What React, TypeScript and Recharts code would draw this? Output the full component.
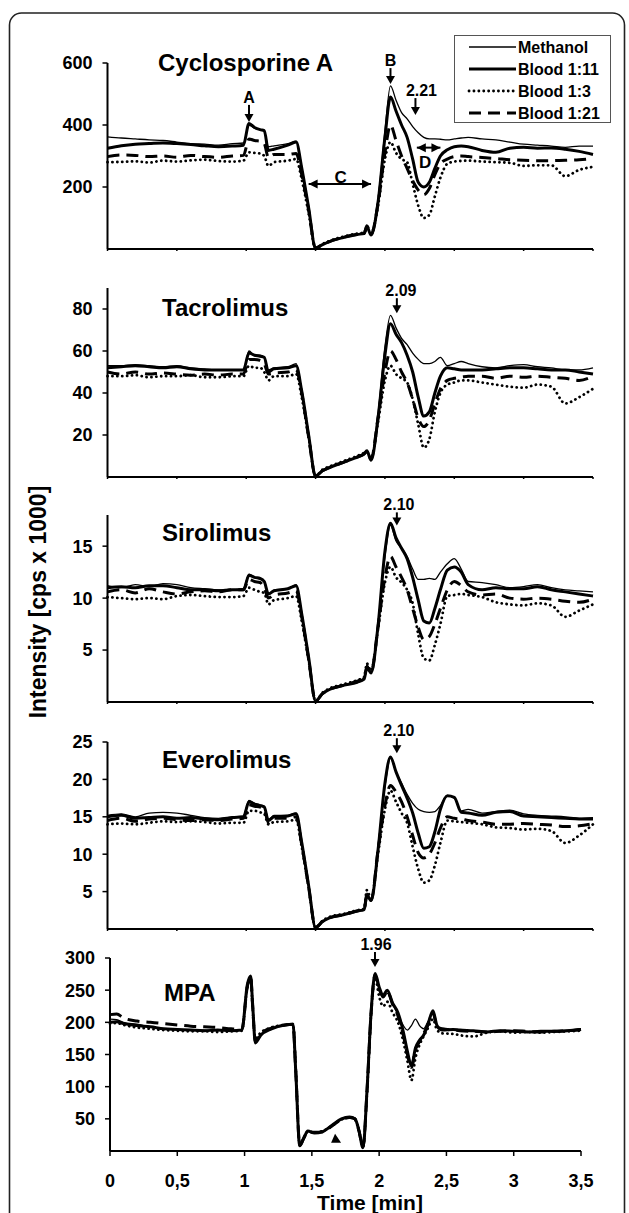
import { LineChart, Line, XAxis, YAxis, ReferenceDot, ReferenceLine, Legend } from 'recharts';

const FONT = '"Liberation Sans", Arial, Helvetica, sans-serif';

// time grid (min) shared by the four upper panels
const timeUpper = [
  0, 0.1, 0.2, 0.3, 0.4, 0.5, 0.6, 0.7, 0.8, 0.9,
  0.98, 1.02, 1.06, 1.1, 1.13, 1.16, 1.2, 1.3, 1.36, 1.4, 1.45, 1.5,
  1.55, 1.6, 1.7, 1.8, 1.85, 1.87, 1.9, 1.95,
  2.0, 2.04, 2.08, 2.12, 2.16, 2.2, 2.24, 2.28, 2.32, 2.36, 2.4, 2.45, 2.5, 2.55, 2.6,
  2.7, 2.8, 2.9, 3.0, 3.1, 3.2, 3.3, 3.4, 3.5,
];

const csaMethanol = [
  362, 358, 355, 352, 350, 345, 340, 338, 335, 340,
  342, 400, 390, 385, 380, 330, 333, 340, 348, 265, 135, 4,
  15, 25, 38, 48, 52, 70, 48, 160,
  380, 526, 480, 440, 420, 395, 375, 360, 355, 355, 354, 352, 355, 358, 360,
  355, 352, 345, 338, 335, 332, 328, 332, 332,
];
const csaBlood11 = [
  325, 333, 338, 340, 342, 340, 337, 333, 330, 332,
  335, 405, 392, 385, 382, 318, 322, 335, 345, 262, 133, 3,
  14, 24, 37, 47, 50, 72, 45, 150,
  360, 490, 445, 400, 360, 290, 215, 200, 215, 260, 300, 320, 330, 332, 330,
  318, 312, 325, 328, 325, 326, 322, 315, 305,
];
const csaBlood3 = [
  280, 281, 283, 279, 285, 282, 286, 288, 284, 282,
  285, 312, 310, 308, 300, 268, 280, 285, 290, 225, 115, 3,
  16, 26, 40, 50, 53, 68, 50, 140,
  290, 345, 310, 290, 280, 210, 140, 100, 110, 170, 230, 275, 282, 284, 285,
  282, 280, 278, 268, 270, 270, 235, 255, 265,
];
const csaBlood21 = [
  298, 303, 302, 298, 300, 296, 302, 298, 296, 300,
  302, 355, 350, 348, 340, 295, 305, 305, 308, 240, 125, 3,
  14, 24, 38, 47, 50, 75, 48, 145,
  310, 400, 350, 300, 260, 220, 190, 175, 195, 240, 275, 290, 298, 300, 298,
  295, 292, 288, 286, 285, 285, 286, 288, 292,
];

const tacMethanol = [
  53, 53, 53.5, 53, 52.5, 53, 52, 51.5, 51, 51,
  51, 60, 58, 58, 57, 51, 52, 52.5, 54, 41, 20, 0.5,
  3, 4.5, 7, 9.5, 11, 12, 8.5, 30,
  62, 77, 71, 66, 63, 59, 56, 54, 54, 55, 57, 53, 54, 55, 54,
  52.5, 52, 53, 53.5, 52.5, 52, 51, 51, 52,
];
const tacBlood11 = [
  52, 52.5, 53, 52.5, 52, 52.5, 51.5, 51, 51, 51,
  51, 59, 58, 57.5, 57, 50, 51.5, 52, 53, 41, 20, 0.5,
  3, 4.5, 7, 9.5, 11, 12.5, 8, 28,
  58, 73, 68, 64, 58, 50, 38, 29, 31, 40, 48, 52, 51.5, 51, 51,
  51, 51.5, 52, 52, 51.5, 51, 51, 50, 49,
];
const tacBlood3 = [
  48, 48, 48.5, 47.5, 48, 48, 48.5, 47.5, 47.5, 48,
  48, 53, 52, 52, 50, 46, 48, 48, 49, 38, 19, 0.5,
  3.5, 5, 7.5, 10, 11.5, 12, 9, 26,
  46, 53, 49, 47, 45, 37, 25, 14, 18, 31, 40, 44, 45, 46, 46,
  45, 44, 43, 42.5, 44, 43, 35, 38, 42,
];
const tacBlood21 = [
  50, 49, 50, 49, 49.5, 49, 48.5, 49, 48.5, 49,
  49, 56, 56, 55.5, 54, 49, 49.5, 50, 51, 40, 19, 0.5,
  3, 4.5, 7, 9.5, 11, 12, 8.5, 28,
  50, 60, 56, 50, 45, 37, 28, 24, 27, 35, 42, 46, 47, 47.5, 48,
  48, 47, 48, 47.5, 48, 47.5, 47, 46, 48,
];

const sirMethanol = [
  11.2, 11.0, 11.3, 11.1, 11.4, 11.3, 11, 10.9, 10.8, 10.8,
  10.9, 12.3, 12, 11.8, 11.6, 10.4, 10.8, 10.9, 11.3, 8.5, 4.3, 0.1,
  0.8, 1.2, 1.6, 2.0, 2.3, 3.6, 2.9, 7.5,
  14, 17, 15.5, 14.8, 14, 12.8, 11.8, 11.8, 11.9, 11.8, 12.5, 13.3, 13.8, 12.8, 11.6,
  11.5, 11.3, 11, 11.1, 11.3, 11, 10.8, 10.7, 10.6,
];
const sirBlood11 = [
  11, 11.1, 11, 11.2, 11.2, 11, 10.8, 10.8, 10.7, 10.8,
  10.8, 12.2, 12, 11.9, 11.6, 10.4, 10.7, 10.9, 11.2, 8.5, 4.3, 0.1,
  0.8, 1.2, 1.6, 1.9, 2.2, 3.3, 2.8, 7.3,
  14.5, 17.2, 15.8, 14.8, 13.8, 12, 9.8, 7.8, 7.6, 9, 10.8, 12.7, 13, 12.5, 11.3,
  10.8, 11, 10.9, 10.9, 11.1, 10.8, 10.6, 10.4, 10.2,
];
const sirBlood3 = [
  10.1, 10, 9.9, 10, 9.9, 10.2, 10.3, 10.2, 10.1, 10.1,
  10.2, 11, 10.8, 10.6, 10.5, 9.4, 9.8, 10, 10.2, 7.8, 4, 0.1,
  0.9, 1.3, 1.7, 2.1, 2.4, 3.7, 3, 7,
  11.5, 13, 12, 11.5, 10.8, 9.5, 6.5, 4.2, 4, 5.5, 7.5, 10.2, 10.3, 10.4, 10.3,
  10.1, 9.6, 9.4, 9.3, 9.5, 9.3, 8.2, 8.8, 9.4,
];
const sirBlood21 = [
  10.6, 10.8, 10.5, 10.9, 10.6, 10.4, 10.6, 10.7, 10.6, 10.8,
  10.8, 11.8, 11.6, 11.5, 11, 10, 10.3, 10.5, 10.7, 8.2, 4.1, 0.1,
  0.8, 1.2, 1.6, 2, 2.3, 3.4, 2.9, 7.2,
  12, 14, 13, 12, 10.8, 9, 7.2, 6, 6.3, 7.5, 9, 10.8, 11.6, 11.2, 10.6,
  10.3, 10.4, 10, 9.9, 10, 9.9, 9.7, 9.6, 9.9,
];

const eveMethanol = [
  15.2, 15.4, 15, 15.5, 15.6, 15.5, 15.2, 14.9, 14.8, 15,
  15.1, 17.2, 16.8, 16.6, 16.4, 14.6, 15.2, 15.2, 15.5, 11.6, 5.8, 0.2,
  1, 1.5, 1.9, 2.4, 2.6, 4.8, 3.8, 11,
  19, 22.8, 21, 19.5, 18, 16.8, 16, 15.7, 15.6, 15.7, 16.5, 17.8, 17.5, 15.8, 16,
  15.5, 15.7, 15.9, 15.4, 15.2, 15.1, 15, 14.8, 14.9,
];
const eveBlood11 = [
  15, 15.2, 14.8, 14.9, 15, 14.8, 14.9, 14.7, 14.6, 14.9,
  15, 17, 16.7, 16.5, 16.3, 14.5, 15, 15.1, 15.4, 11.6, 5.8, 0.2,
  1, 1.5, 1.9, 2.4, 2.6, 4.5, 3.8, 10.5,
  19.5, 23, 21, 19.2, 17.5, 15.5, 12.8, 10.8, 11, 13, 16, 17.8, 17.6, 15.6, 15.5,
  15.2, 15.6, 15.7, 15.1, 15, 14.9, 14.8, 14.7, 14.7,
];
const eveBlood3 = [
  14, 14.1, 14, 14.2, 14.4, 14.3, 14.4, 14.3, 14.1, 14.2,
  14.2, 15.8, 15.8, 15.6, 15.4, 14, 14.3, 14.4, 14.6, 11, 5.5, 0.2,
  1.1, 1.6, 2, 2.5, 2.7, 5.2, 4, 10,
  16, 18.5, 17, 15.5, 14.2, 11, 8, 6.2, 6.5, 8.5, 11.5, 14.5, 14.4, 14.3, 14.2,
  14, 13.6, 13.5, 13.3, 13.4, 13.1, 11.5, 12.5, 14,
];
const eveBlood21 = [
  14.5, 14.8, 14.4, 14.7, 14.8, 14.6, 14.5, 14.6, 14.5, 14.7,
  14.8, 16.6, 16.4, 16.3, 16, 14.2, 14.8, 14.8, 15, 11.3, 5.6, 0.2,
  1, 1.5, 1.9, 2.4, 2.6, 4.6, 3.8, 10.5,
  16.5, 19.2, 18.3, 17, 15, 12.5, 10.2, 9.5, 10, 11.5, 13.5, 15, 14.8, 14.7, 14.5,
  14.3, 14, 14, 14.1, 14, 13.9, 13.7, 13.8, 14.1,
];

// MPA has its own time grid
const timeMpa = [
  0, 0.05, 0.1, 0.2, 0.3, 0.4, 0.5, 0.6, 0.7, 0.8, 0.9,
  0.98, 1.02, 1.045, 1.06, 1.08, 1.12, 1.2, 1.3, 1.36,
  1.38, 1.41, 1.44, 1.47, 1.52, 1.58, 1.65, 1.72, 1.78, 1.82, 1.85, 1.88, 1.91, 1.94, 1.97,
  2.0, 2.03, 2.06, 2.1, 2.14, 2.18, 2.21, 2.24, 2.27, 2.3, 2.33, 2.36, 2.4, 2.43, 2.47,
  2.55, 2.6, 2.7, 2.8, 2.9, 3.0, 3.1, 3.2, 3.3, 3.4, 3.5,
];
const mpaMethanol = [
  205, 204, 200, 197, 193, 190, 189, 188, 188, 187, 187,
  188, 250, 270, 225, 172, 182, 190, 195, 196,
  125, 10, 20, 31, 29, 30, 40, 49, 52, 50, 35, 6, 95, 210, 275,
  250, 238, 245, 228, 212, 195, 188, 195, 205, 195, 190, 200, 213, 195, 190,
  188, 187, 186, 185, 186, 187, 186, 185, 187, 188, 190,
];
const mpaBlood11 = [
  200, 201, 198, 195, 193, 190, 189, 188, 187, 188, 187,
  188, 258, 272, 228, 168, 180, 190, 196, 197,
  125, 8, 20, 31, 28, 30, 40, 50, 53, 50, 32, 5, 95, 215, 276,
  255, 242, 250, 230, 215, 185, 155, 132, 160, 172, 180, 195, 218, 195, 188,
  189, 188, 187, 185, 187, 186, 185, 186, 186, 187, 189,
];
const mpaBlood3 = [
  198, 199, 196, 192, 190, 188, 187, 186, 186, 185, 186,
  187, 255, 270, 222, 175, 184, 192, 196, 197,
  128, 9, 21, 30, 29, 31, 39, 49, 52, 49, 31, 6, 92, 212, 270,
  240, 225, 232, 215, 200, 170, 140, 110, 145, 165, 178, 190, 205, 188, 183,
  182, 180, 178, 184, 186, 184, 185, 184, 185, 186, 187,
];
const mpaBlood21 = [
  212, 213, 207, 202, 200, 198, 196, 194, 193, 192, 190,
  189, 255, 271, 225, 170, 182, 191, 196, 197,
  126, 9, 20, 30, 29, 30, 39, 49, 52, 50, 31, 6, 93, 213, 274,
  252, 240, 248, 228, 210, 180, 150, 130, 158, 170, 182, 195, 215, 192, 190,
  188, 187, 186, 185, 186, 187, 186, 185, 186, 187, 189,
];

const xTicks = [0, 0.5, 1, 1.5, 2, 2.5, 3, 3.5];
const xTickLabels = ['0', '0,5', '1', '1,5', '2', '2,5', '3', '3,5'];

const series = [
  { key: 'b3', name: 'Blood 1:3', width: 2.8, dash: '0.1 4.8', cap: 'round' as const },
  { key: 'b21', name: 'Blood 1:21', width: 3, dash: '12 7', cap: 'butt' as const },
  { key: 'b11', name: 'Blood 1:11', width: 3, dash: undefined, cap: 'butt' as const },
  { key: 'm', name: 'Methanol', width: 1.3, dash: undefined, cap: 'butt' as const },
];
const legendOrder = ['m', 'b11', 'b3', 'b21'];

function rows(times: number[], m: number[], b11: number[], b3: number[], b21: number[]) {
  return times.map((t, i) => ({ t, m: m[i], b11: b11[i], b3: b3[i], b21: b21[i] }));
}

type Arrow = { t: number; v: number; label: string; len: number; dx?: number };

const panels = [
  {
    name: 'Cyclosporine A', data: rows(timeUpper, csaMethanol, csaBlood11, csaBlood3, csaBlood21),
    domain: [0, 600], yTicks: [200, 400, 600],
    plotLeft: 107.5, plotRight: 593, plotTop: 63, plotBottom: 249, titleX: 158, titleY: 71,
    arrows: [
      { t: 1.02, v: 410, label: 'A', len: 17 },
      { t: 2.04, v: 532, label: 'B', len: 16 },
      { t: 2.22, v: 432, label: '2.21', len: 17, dx: 6 },
    ] as Arrow[],
    spans: [{ t1: 1.45, t2: 1.9, v: 210 }, { t1: 2.23, t2: 2.4, v: 327 }],
    letters: [{ t: 1.68, v: 232, label: 'C' }, { t: 2.29, v: 280, label: 'D' }],
    legend: true, timeAxis: false,
  },
  {
    name: 'Tacrolimus', data: rows(timeUpper, tacMethanol, tacBlood11, tacBlood3, tacBlood21),
    domain: [0, 90], yTicks: [20, 40, 60, 80],
    plotLeft: 107.5, plotRight: 593, plotTop: 288, plotBottom: 477, titleX: 162, titleY: 316,
    arrows: [{ t: 2.086, v: 78, label: '2.09', len: 15, dx: 4 }] as Arrow[],
    spans: [], letters: [], legend: false, timeAxis: false,
  },
  {
    name: 'Sirolimus', data: rows(timeUpper, sirMethanol, sirBlood11, sirBlood3, sirBlood21),
    domain: [0, 18], yTicks: [5, 10, 15],
    plotLeft: 107.5, plotRight: 593, plotTop: 515, plotBottom: 702, titleX: 162, titleY: 541,
    arrows: [{ t: 2.086, v: 17, label: '2.10', len: 13, dx: 2 }] as Arrow[],
    spans: [], letters: [], legend: false, timeAxis: false,
  },
  {
    name: 'Everolimus', data: rows(timeUpper, eveMethanol, eveBlood11, eveBlood3, eveBlood21),
    domain: [0, 25], yTicks: [5, 10, 15, 20, 25],
    plotLeft: 107.5, plotRight: 593, plotTop: 742, plotBottom: 929, titleX: 162, titleY: 768,
    arrows: [{ t: 2.086, v: 23.5, label: '2.10', len: 15, dx: 2 }] as Arrow[],
    spans: [], letters: [], legend: false, timeAxis: false,
  },
  {
    name: 'MPA', data: rows(timeMpa, mpaMethanol, mpaBlood11, mpaBlood3, mpaBlood21),
    domain: [0, 300], yTicks: [50, 100, 150, 200, 250, 300],
    plotLeft: 110, plotRight: 581, plotTop: 958, plotBottom: 1151, titleX: 164, titleY: 1001,
    arrows: [{ t: 1.969, v: 286, label: '1.96', len: 15, dx: 1 }] as Arrow[],
    spans: [], letters: [], legend: false, timeAxis: true,
  },
];

const tickFont = { fill: '#000', fontSize: 18, fontWeight: 700, fontFamily: FONT };
const axisLine = { stroke: '#000', strokeWidth: 2 };
const tickLine = { stroke: '#000', strokeWidth: 1.5 };

const downArrow = (a: Arrow) => (props: any) => {
  const { cx, cy } = props;
  return (
    <g>
      <line x1={cx} y1={cy - a.len} x2={cx} y2={cy - 6} stroke="#000" strokeWidth={2} />
      <path d={`M${cx - 4.5},${cy - 8} L${cx + 4.5},${cy - 8} L${cx},${cy} Z`} fill="#000" />
      <text x={cx + (a.dx || 0)} y={cy - a.len - 2} textAnchor="middle" fontSize={16} fontWeight={700} fontFamily={FONT} fill="#000">
        {a.label}
      </text>
    </g>
  );
};

const headLeft = (props: any) => <path d={`M${props.cx},${props.cy} l9,-4.5 l0,9 z`} fill="#000" />;
const headRight = (props: any) => <path d={`M${props.cx},${props.cy} l-9,-4.5 l0,9 z`} fill="#000" />;
const letter = (label: string) => (props: any) => (
  <text x={props.cx} y={props.cy} dy="0.35em" textAnchor="middle" fontSize={17} fontWeight={700} fontFamily={FONT} fill="#000">
    {label}
  </text>
);
const triangle = (props: any) => (
  <path d={`M${props.cx - 5},${props.cy + 4} L${props.cx + 5},${props.cy + 4} L${props.cx - 1},${props.cy - 5} Z`} fill="#000" />
);

const LegendBox = () => (
  <svg width={158} height={89} style={{ display: 'block' }}>
    <rect x={0.5} y={0.5} width={156} height={87} fill="#fff" stroke="#555" strokeWidth={1} />
    {legendOrder.map((k, i) => {
      const s = series.find((x) => x.key === k)!;
      const y = 12 + i * 22;
      return (
        <g key={k}>
          <line x1={15} x2={62} y1={y} y2={y} stroke="#000" strokeWidth={s.width} strokeDasharray={s.dash} strokeLinecap={s.cap} />
          <text x={64} y={y} dy="0.35em" fontSize={16} fontWeight={700} fontFamily={FONT} fill="#000">
            {s.name}
          </text>
        </g>
      );
    })}
  </svg>
);

function Panel({ p }: { p: (typeof panels)[number] }) {
  const xHeight = p.timeAxis ? 52 : 10;
  const chartTop = p.plotTop - 40;
  const height = 40 + (p.plotBottom - p.plotTop) + xHeight;
  return (
    <div style={{ position: 'absolute', left: 0, top: chartTop }}>
      <LineChart width={629} height={height} data={p.data} margin={{ top: 40, right: 629 - p.plotRight, bottom: 0, left: 0 }}>
        <XAxis
          type="number"
          dataKey="t"
          domain={[0, 3.5]}
          ticks={xTicks}
          interval={0}
          height={xHeight}
          axisLine={axisLine}
          tickLine={tickLine}
          tickSize={p.timeAxis ? 5 : 2}
          tickMargin={p.timeAxis ? 18 : 0}
          tick={tickFont}
          tickFormatter={(_v: number, i: number) => (p.timeAxis ? xTickLabels[i] : '')}
        />
        <YAxis
          type="number"
          domain={p.domain}
          ticks={p.yTicks}
          interval={0}
          width={p.plotLeft}
          axisLine={axisLine}
          tickLine={tickLine}
          tickSize={5}
          tickMargin={10}
          tick={tickFont}
          allowDataOverflow
        />
        {series.map((s) => (
          <Line
            key={s.key}
            type="monotone"
            dataKey={s.key}
            stroke="#000"
            strokeWidth={s.width}
            strokeDasharray={s.dash}
            strokeLinecap={s.cap}
            dot={false}
            activeDot={false}
            isAnimationActive={false}
          />
        ))}
        {p.arrows.map((a) => (
          <ReferenceDot key={a.label} x={a.t} y={a.v} ifOverflow="visible" shape={downArrow(a)} />
        ))}
        {p.spans.map((s) => (
          <ReferenceLine key={`l${s.t1}`} segment={[{ x: s.t1, y: s.v }, { x: s.t2, y: s.v }]} stroke="#000" strokeWidth={2} />
        ))}
        {p.spans.map((s) => (
          <ReferenceDot key={`a${s.t1}`} x={s.t1} y={s.v} ifOverflow="visible" shape={headLeft} />
        ))}
        {p.spans.map((s) => (
          <ReferenceDot key={`b${s.t2}`} x={s.t2} y={s.v} ifOverflow="visible" shape={headRight} />
        ))}
        {p.letters.map((l) => (
          <ReferenceDot key={l.label} x={l.t} y={l.v} ifOverflow="visible" shape={letter(l.label)} />
        ))}
        {p.timeAxis && <ReferenceDot x={1.68} y={19} ifOverflow="visible" shape={triangle} />}
        {p.legend && (
          <Legend
            layout="vertical"
            align="center"
            verticalAlign="middle"
            content={() => <LegendBox />}
            wrapperStyle={{ left: 454, top: 12, width: 158, height: 89 }}
          />
        )}
      </LineChart>
    </div>
  );
}

export default function App() {
  return (
    <div style={{ position: 'relative', width: 629, height: 1213, overflow: 'hidden', background: '#fff' }}>
      <style>{'body{margin:0;background:#fff}'}</style>
      {panels.map((p) => (
        <Panel key={p.name} p={p} />
      ))}
      <svg width={629} height={1213} style={{ position: 'absolute', left: 0, top: 0, pointerEvents: 'none' }}>
        <rect x={9.5} y={13} width={615} height={1260} rx={12} fill="none" stroke="#222" strokeWidth={1.6} />
        {panels.map((p) => (
          <text key={p.name} x={p.titleX} y={p.titleY} fontSize={24} fontWeight={700} fontFamily={FONT} fill="#000">
            {p.name}
          </text>
        ))}
        <text transform="translate(46,602) rotate(-90)" textAnchor="middle" fontSize={23} fontWeight={700} fontFamily={FONT} fill="#000">
          Intensity [cps x 1000]
        </text>
        <text x={370} y={1210} textAnchor="middle" fontSize={21} fontWeight={700} fontFamily={FONT} fill="#000">
          Time [min]
        </text>
      </svg>
    </div>
  );
}
